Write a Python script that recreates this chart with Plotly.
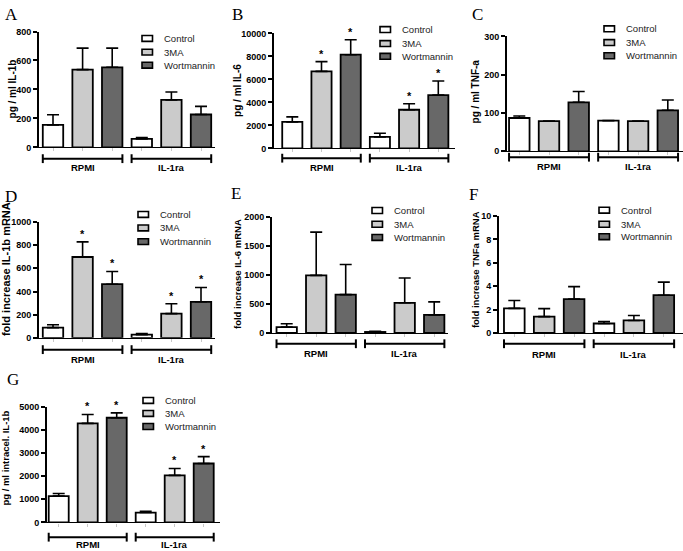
import plotly.graph_objects as go

W, H = 683, 551

# ---------------- data ----------------
groups = ["RPMI", "IL-1ra"]
treatments = ["Control", "3MA", "Wortmannin"]
fill_colors = ["#ffffff", "#cbcbcb", "#686868"]

# bar order: Control, 3MA, Wortmannin (RPMI), then Control, 3MA, Wortmannin (IL-1ra)
a_mean = [155, 537, 553, 58, 328, 227]
a_err = [70, 148, 132, 9, 54, 56]
a_sig = [0, 0, 0, 0, 0, 0]

b_mean = [2300, 6700, 8150, 1000, 3360, 4640]
b_err = [440, 850, 1300, 320, 520, 1220]
b_sig = [0, 1, 1, 0, 1, 1]

c_mean = [87, 79, 128, 80, 79, 107]
c_err = [5, 0, 28, 0, 0, 27]
c_sig = [0, 0, 0, 0, 0, 0]

d_mean = [88, 698, 463, 28, 209, 311]
d_err = [25, 130, 110, 9, 85, 124]
d_sig = [0, 1, 1, 0, 1, 1]

e_mean = [102, 994, 661, 17, 520, 311]
e_err = [56, 746, 520, 11, 429, 226]
e_sig = [0, 0, 0, 0, 0, 0]

f_mean = [2.1, 1.4, 2.89, 0.81, 1.07, 3.23]
f_err = [0.68, 0.68, 1.07, 0.17, 0.42, 1.12]
f_sig = [0, 0, 0, 0, 0, 0]

g_mean = [1136, 4276, 4517, 426, 2031, 2543]
g_err = [114, 383, 213, 57, 299, 298]
g_sig = [0, 1, 1, 0, 1, 1]

panel_letters = ["A", "B", "C", "D", "E", "F", "G"]
y_titles = ["pg / ml IL-1b", "pg / ml IL-6", "pg / ml TNF-a",
            "fold increase IL-1b mRNA", "fold increase IL-6 mRNA",
            "fold increase TNFa mRNA", "pg / ml intracel. IL-1b"]
y_max = [800, 10000, 300, 1000, 2000, 10, 5000]
y_step = [200, 2000, 100, 200, 500, 2, 1000]

means = [a_mean, b_mean, c_mean, d_mean, e_mean, f_mean, g_mean]
errs = [a_err, b_err, c_err, d_err, e_err, f_err, g_err]
sigs = [a_sig, b_sig, c_sig, d_sig, e_sig, f_sig, g_sig]

# ---------------- layout geometry (pixels) ----------------
geom = [
    dict(x0=39, c0=53, step=29.6, x1=215, top=27, bot=145, br=156.5, lab=166,
         ttl=(12, 86), tsize=10, let=(11.5, 10), leg_x=162, leg_y=(34, 48, 61.3)),
    dict(x0=274, c0=292.3, step=29.2, x1=455, top=29, bot=146, br=156, lab=166,
         ttl=(238, 87.5), tsize=10, let=(237.5, 9.5), leg_x=400, leg_y=(25, 39.3, 52.3)),
    dict(x0=507, c0=519.3, step=29.7, x1=683, top=32, bot=149, br=155, lab=164,
         ttl=(475, 88), tsize=10, let=(477.5, 10), leg_x=624, leg_y=(24.3, 38.3, 51.7)),
    dict(x0=39, c0=53, step=29.6, x1=215, top=221, bot=339, br=351, lab=361,
         ttl=(6, 269), tsize=11, let=(11, 195), leg_x=158, leg_y=(213.3, 227, 241)),
    dict(x0=272, c0=286.7, step=29.5, x1=448, top=216, bot=334, br=345, lab=355,
         ttl=(237, 274), tsize=9.5, let=(236, 191.7), leg_x=392, leg_y=(209.3, 223.3, 236.7)),
    dict(x0=499, c0=514.3, step=29.9, x1=683, top=215, bot=334, br=345, lab=355.5,
         ttl=(475, 270), tsize=9.5, let=(473, 193), leg_x=619, leg_y=(209, 223.3, 236)),
    dict(x0=47, c0=58.7, step=29.0, x1=220, top=409, bot=527, br=542, lab=549,
         ttl=(6, 462), tsize=9.5, let=(12.5, 381), leg_x=163, leg_y=(402.7, 416, 429.3)),
]

FONT = "Liberation Sans, Arial, sans-serif"
BAR_W = 0.69


def px(x):
    return x / W


def py(y):
    return 1 - y / H


fig = go.Figure()
layout = dict(width=W, height=H, margin=dict(l=0, r=0, t=0, b=0),
              paper_bgcolor="white", plot_bgcolor="white",
              barmode="overlay", showlegend=False,
              font=dict(family=FONT, color="black"))
shapes = []
annotations = []

for p in range(7):
    gm = geom[p]
    xa = "x" if p == 0 else f"x{p + 1}"
    ya = "y" if p == 0 else f"y{p + 1}"
    xkey = "xaxis" if p == 0 else f"xaxis{p + 1}"
    ykey = "yaxis" if p == 0 else f"yaxis{p + 1}"

    n_pos = len(groups) * len(treatments)
    for t, name in enumerate(treatments):
        idx = [g * len(treatments) + t for g in range(len(groups))]
        fig.add_trace(go.Bar(
            x=idx, y=[means[p][i] for i in idx], name=name,
            width=BAR_W, xaxis=xa, yaxis=ya,
            marker=dict(color=fill_colors[t], line=dict(color="black", width=1.8)),
            error_y=dict(type="data", symmetric=False,
                         array=[errs[p][i] for i in idx],
                         arrayminus=[0 for _ in idx],
                         color="black", thickness=1.6, width=6),
        ))

    xr = [(gm["x0"] - gm["c0"]) / gm["step"], (gm["x1"] - gm["c0"]) / gm["step"]]
    layout[xkey] = dict(domain=[px(gm["x0"]), px(gm["x1"])], range=xr,
                        anchor=ya, showgrid=False, zeroline=False,
                        showline=True, linecolor="black", linewidth=1.2,
                        tickmode="array", tickvals=list(range(n_pos)),
                        ticks="outside", ticklen=3, tickcolor="#c8c8c8",
                        showticklabels=False, fixedrange=True)
    layout[ykey] = dict(domain=[py(gm["bot"]), py(gm["top"])],
                        range=[0, y_max[p]], anchor=xa,
                        showgrid=False, zeroline=False,
                        showline=True, linecolor="black", linewidth=1.8,
                        ticks="outside", ticklen=4, tickwidth=1.6,
                        tickcolor="black", dtick=y_step[p], tick0=0,
                        tickformat="d", exponentformat="none",
                        tickfont=dict(family=FONT, size=9, weight="bold", color="black"),
                        fixedrange=True)

    # significance stars
    for i in range(n_pos):
        if sigs[p][i]:
            annotations.append(dict(x=i, y=means[p][i] + errs[p][i], xref=xa, yref=ya,
                                    text="<b>*</b>", showarrow=False, yanchor="bottom",
                                    yshift=0, font=dict(size=11, family=FONT, color="#000000")))

    # group brackets
    for g, gname in enumerate(groups):
        lo = g * len(treatments) - BAR_W / 2
        hi = (g + 1) * len(treatments) - 1 + BAR_W / 2
        yb = py(gm["br"])
        shapes.append(dict(type="line", xref=xa, yref="paper", x0=lo, x1=hi,
                           y0=yb, y1=yb, line=dict(color="black", width=2)))
        for xe in (lo, hi):
            shapes.append(dict(type="line", xref=xa, yref="paper", x0=xe, x1=xe,
                               y0=py(gm["br"] - 4.5), y1=py(gm["br"] + 4.5),
                               line=dict(color="black", width=2)))
        annotations.append(dict(x=(lo + hi) / 2, y=py(gm["lab"]), xref=xa, yref="paper",
                                text=f"<b>{gname}</b>", showarrow=False,
                                xanchor="center", yanchor="middle",
                                font=dict(size=9.5, family=FONT, color="black")))

    # y-axis title
    annotations.append(dict(x=px(gm["ttl"][0]), y=py(gm["ttl"][1]), xref="paper", yref="paper",
                            text=f"<b>{y_titles[p]}</b>", textangle=-90, showarrow=False,
                            xanchor="center", yanchor="middle",
                            font=dict(size=gm["tsize"], family=FONT, color="black")))
    # panel letter
    annotations.append(dict(x=px(gm["let"][0]), y=py(gm["let"][1]), xref="paper", yref="paper",
                            text=panel_letters[p], showarrow=False,
                            xanchor="center", yanchor="middle",
                            font=dict(size=17, family="Liberation Serif, Times New Roman, serif",
                                      color="black")))

    # legend (drawn as swatches + labels)
    for t, name in enumerate(treatments):
        yc = gm["leg_y"][t]
        shapes.append(dict(type="rect", xref="paper", yref="paper",
                           x0=px(gm["leg_x"] - 20), x1=px(gm["leg_x"] - 9.5),
                           y0=py(yc + 3), y1=py(yc - 3),
                           fillcolor=fill_colors[t], line=dict(color="black", width=1.6)))
        annotations.append(dict(x=px(gm["leg_x"]), y=py(yc), xref="paper", yref="paper",
                                text=name, showarrow=False, xanchor="left", yanchor="middle",
                                font=dict(size=9.5, family=FONT, color="#222222")))

layout["shapes"] = shapes
layout["annotations"] = annotations
fig.update_layout(**layout)
fig.write_html("out.html", config={"displayModeBar": False},
               post_script="document.body.style.margin='0';document.body.style.padding='0';"
                           "document.body.style.overflow='hidden';")
